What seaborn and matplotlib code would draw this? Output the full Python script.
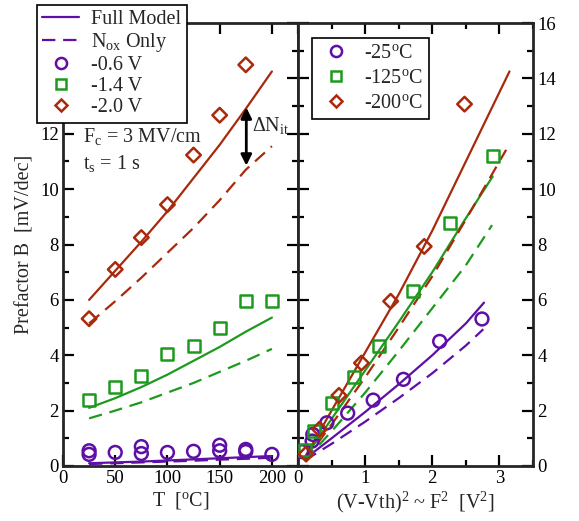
import numpy as np
import pandas as pd
import matplotlib
matplotlib.use("Agg")
import matplotlib.pyplot as plt
from matplotlib.lines import Line2D
from matplotlib.ticker import MultipleLocator
import seaborn as sns

# ---------------- data ----------------
# Left panel: prefactor B vs temperature T
T_model = [25, 50, 75, 100, 125, 150, 175, 200]
full_06 = [0.10, 0.13, 0.16, 0.20, 0.24, 0.28, 0.32, 0.36]
nox_06 = [0.07, 0.10, 0.13, 0.16, 0.19, 0.23, 0.26, 0.30]
full_14 = [2.10, 2.45, 2.85, 3.30, 3.80, 4.30, 4.85, 5.36]
nox_14 = [1.72, 2.00, 2.30, 2.65, 3.00, 3.40, 3.80, 4.23]
full_20 = [6.00, 7.05, 8.10, 9.20, 10.40, 11.60, 12.90, 14.25]
nox_20 = [5.15, 5.95, 6.80, 7.70, 8.60, 9.60, 10.70, 11.55]

T_06 = [25, 25, 50, 75, 75, 100, 125, 150, 150, 175, 175, 200]
B_06 = [0.55, 0.42, 0.49, 0.70, 0.45, 0.49, 0.53, 0.75, 0.55, 0.60, 0.52, 0.42]
T_14 = [25, 50, 75, 100, 125, 150, 175, 200]
B_14 = [2.38, 2.85, 3.24, 4.03, 4.32, 5.00, 5.95, 5.95]
T_20 = [25, 50, 75, 100, 125, 150, 175]
B_20 = [5.32, 7.10, 8.25, 9.44, 11.23, 12.67, 14.49]

# Right panel: prefactor B vs (V-Vth)^2
F2_25 = [0.10, 0.50, 1.00, 1.50, 2.00, 2.50, 2.77]
full_25 = [0.25, 1.00, 1.95, 2.95, 4.00, 5.15, 5.90]
F2_25d = [0.10, 0.50, 1.00, 1.50, 2.00, 2.50, 2.76]
nox_25 = [0.20, 0.80, 1.60, 2.45, 3.35, 4.35, 4.94]
F2_125 = [0.10, 0.50, 1.00, 1.50, 2.00, 2.50, 2.90]
full_125 = [0.30, 1.70, 3.45, 5.20, 7.00, 8.95, 10.46]
F2_125d = [0.10, 0.50, 1.00, 1.50, 2.00, 2.50, 2.89]
nox_125 = [0.20, 1.25, 2.65, 4.15, 5.70, 7.25, 8.70]
F2_200 = [0.10, 0.50, 1.00, 1.50, 2.00, 2.50, 3.15]
full_200 = [0.30, 2.00, 4.10, 6.20, 8.50, 11.00, 14.25]
F2_200d = [0.10, 0.50, 1.00, 1.50, 2.00, 2.50, 3.10]
nox_200 = [0.20, 1.50, 3.20, 5.00, 6.85, 8.90, 11.42]

X_25 = [0.055, 0.21, 0.22, 0.43, 0.74, 1.12, 1.57, 2.11, 2.74]
Y_25 = [0.52, 0.90, 1.14, 1.56, 1.91, 2.38, 3.13, 4.50, 5.31]
X_125 = [0.10, 0.24, 0.50, 0.83, 1.21, 1.71, 2.26, 2.91]
Y_125 = [0.57, 1.26, 2.28, 3.22, 4.32, 6.32, 8.77, 11.20]
X_200 = [0.12, 0.32, 0.61, 0.945, 1.38, 1.88, 2.48]
Y_200 = [0.43, 1.33, 2.55, 3.72, 5.95, 7.93, 13.07]

left_labels = ["-0.6 V", "-1.4 V", "-2.0 V"]
right_labels = [r"-25$^{\rm o}$C", r"-125$^{\rm o}$C", r"-200$^{\rm o}$C"]

# ---------------- style ----------------
PURPLE = "#5e10a6"
GREEN = "#1d9a1d"
RED = "#a82a0c"

sns.set_theme(style="ticks")
plt.rcParams["font.family"] = ["Liberation Serif", "DejaVu Serif"]
plt.rcParams["mathtext.fontset"] = "custom"
plt.rcParams["mathtext.rm"] = "Liberation Serif"
plt.rcParams["mathtext.it"] = "Liberation Serif:italic"
plt.rcParams["mathtext.bf"] = "Liberation Serif:bold"

FS = 14.5
TFS = 13.5
fig = plt.figure(figsize=(5.79, 5.21), dpi=100)
axL = fig.add_axes([63 / 579, 55 / 521, 235 / 579, 443 / 521])
axR = fig.add_axes([298 / 579, 55 / 521, 235 / 579, 443 / 521])

LW = 1.6
DASH = (6, 3.5)


def draw_line(ax, x, y, color, dashed=False):
    df = pd.DataFrame({"x": x, "y": y})
    sns.lineplot(data=df, x="x", y="y", ax=ax, color=color, lw=LW,
                 linestyle="--" if dashed else "-", zorder=3)
    if dashed:
        ax.lines[-1].set_dashes(DASH)


def draw_pts(ax, x, y, color, marker, size):
    df = pd.DataFrame({"x": x, "y": y})
    sns.scatterplot(data=df, x="x", y="y", ax=ax, marker=marker, s=size,
                    facecolors="none", edgecolor=color, linewidth=1.8, zorder=4)


# left panel
for full, nox, c in [(full_06, nox_06, PURPLE), (full_14, nox_14, GREEN), (full_20, nox_20, RED)]:
    draw_line(axL, T_model, full, c)
    draw_line(axL, T_model, nox, c, dashed=True)
draw_pts(axL, T_06, B_06, PURPLE, "o", 85)
draw_pts(axL, T_14, B_14, GREEN, "s", 75)
draw_pts(axL, T_20, B_20, RED, "D", 55)

# right panel
draw_line(axR, F2_25, full_25, PURPLE)
draw_line(axR, F2_25d, nox_25, PURPLE, dashed=True)
draw_line(axR, F2_125, full_125, GREEN)
draw_line(axR, F2_125d, nox_125, GREEN, dashed=True)
draw_line(axR, F2_200, full_200, RED)
draw_line(axR, F2_200d, nox_200, RED, dashed=True)
draw_pts(axR, X_25, Y_25, PURPLE, "o", 85)
draw_pts(axR, X_125, Y_125, GREEN, "s", 75)
draw_pts(axR, X_200, Y_200, RED, "D", 55)

# axes formatting
for ax in (axL, axR):
    ax.set_ylim(0, 16)
    ax.yaxis.set_major_locator(MultipleLocator(2))
    ax.yaxis.set_minor_locator(MultipleLocator(1))
    for s in ax.spines.values():
        s.set_linewidth(2.0)
        s.set_visible(True)
    ax.tick_params(which="both", direction="in", top=True, right=True,
                   width=1.6, labelsize=TFS, colors="black", pad=3)
    ax.tick_params(which="major", length=8)
    ax.tick_params(which="minor", length=4)
    ax.set_xlabel("")
    ax.set_ylabel("")

axL.set_xlim(0, 225)
axL.xaxis.set_major_locator(MultipleLocator(50))
axL.xaxis.set_minor_locator(matplotlib.ticker.NullLocator())
axL.tick_params(labelleft=True, labelright=False)

axR.set_xlim(0, 3.5)
axR.xaxis.set_major_locator(MultipleLocator(1))
axR.xaxis.set_minor_locator(MultipleLocator(0.5))
axR.tick_params(labelleft=False, labelright=True)

axL.set_xlabel(r"T  [$^{\rm o}$C]", fontsize=FS, labelpad=2)
axR.set_xlabel(r"(V-Vth)$^{2}$ ~ F$^{2}$  [V$^{2}$]", fontsize=FS, labelpad=2)
axL.set_ylabel("Prefactor B  [mV/dec]", fontsize=FS, labelpad=4)

# annotations
axL.text(19, 11.69, r"F$_{\rm c}$ = 3 MV/cm", fontsize=FS, va="baseline", ha="left")
axL.text(19, 10.73, r"t$_{\rm s}$ = 1 s", fontsize=FS, va="baseline", ha="left")
axL.annotate("", xy=(175.5, 10.85), xytext=(175.5, 12.95),
             arrowprops=dict(arrowstyle="<|-|>", color="black", lw=2.0,
                             mutation_scale=16, shrinkA=0, shrinkB=0))
axL.text(181, 12.3, r"$\Delta$N$_{\rm it}$", fontsize=FS, va="center", ha="left")

# legends
hL = [Line2D([], [], color=PURPLE, lw=LW),
      Line2D([], [], color=PURPLE, lw=LW, dashes=DASH),
      Line2D([], [], color=PURPLE, marker="o", mfc="none", mec=PURPLE, ms=8, mew=1.8, ls=""),
      Line2D([], [], color=GREEN, marker="s", mfc="none", mec=GREEN, ms=7.5, mew=1.8, ls=""),
      Line2D([], [], color=RED, marker="D", mfc="none", mec=RED, ms=6.5, mew=1.8, ls="")]
labL = ["Full Model", r"N$_{\rm ox}$ Only"] + left_labels
legL = axL.legend(hL, labL, loc="upper left", bbox_to_anchor=(37 / 579, 1 - 5 / 521),
                  bbox_transform=fig.transFigure, fontsize=FS, frameon=True,
                  fancybox=False, edgecolor="black", framealpha=1, borderaxespad=0,
                  handlelength=1.85, handletextpad=0.6, labelspacing=0.1,
                  borderpad=0.25)
legL.get_frame().set_linewidth(1.2)
legL.set_zorder(10)

hR = [Line2D([], [], marker="o", mfc="none", mec=PURPLE, ms=8, mew=1.8, ls=""),
      Line2D([], [], marker="s", mfc="none", mec=GREEN, ms=7.5, mew=1.8, ls=""),
      Line2D([], [], marker="D", mfc="none", mec=RED, ms=6.5, mew=1.8, ls="")]
legR = axR.legend(hR, right_labels, loc="upper left", bbox_to_anchor=(312 / 579, 1 - 38 / 521),
                  bbox_transform=fig.transFigure, fontsize=FS, frameon=True,
                  fancybox=False, edgecolor="black", framealpha=1, borderaxespad=0,
                  handlelength=1.75, handletextpad=0.55, labelspacing=0.28,
                  borderpad=0.3)
legR.get_frame().set_linewidth(1.2)

fig.savefig("out.png", dpi=100)
